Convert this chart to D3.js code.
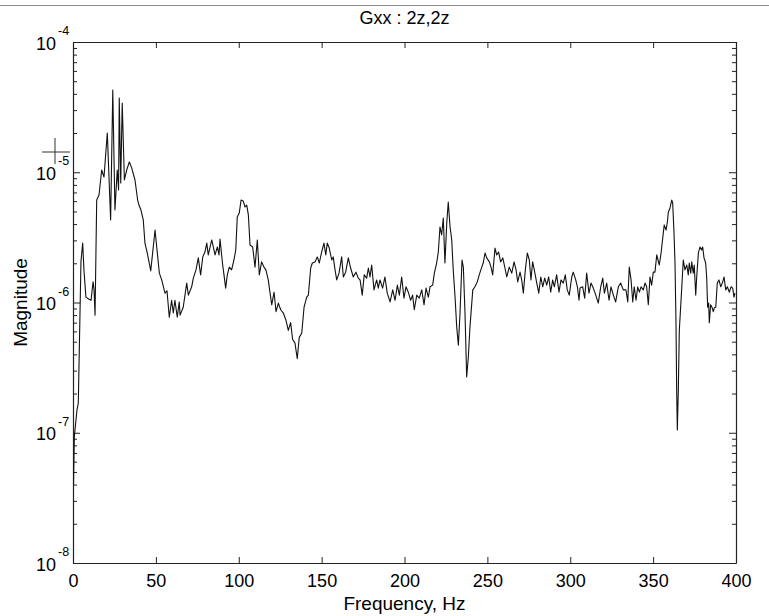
<!DOCTYPE html>
<html>
<head>
<meta charset="utf-8">
<script src="https://cdn.jsdelivr.net/npm/d3@7"></script>
<style>
  html, body { margin: 0; padding: 0; background: #fff; }
  svg { display: block; }
  text { font-family: "Liberation Sans", Arial, Helvetica, sans-serif; fill: #000; }
</style>
</head>
<body>
<svg id="chart" width="769" height="616"></svg>
<script>
const title = "Gxx : 2z,2z";
const xLabel = "Frequency, Hz";
const yLabel = "Magnitude";
const xTicks = [0, 50, 100, 150, 200, 250, 300, 350, 400];
const yMajorTicks = [1e-8, 1e-7, 1e-6, 1e-5, 1e-4];

const freq = [
  0.3, 0.8, 2.4, 3.2, 4.8, 5.85, 6.6, 7.8, 9.7, 10.9, 12.1, 12.7, 13.3, 14.3, 15.7, 17.3, 18.7, 20.7, 22.7, 24.0,
  25.3, 26.7, 27.5, 27.9, 28.8, 29.7, 31.0, 32.4, 34.0, 35.4, 37.4, 39.0, 39.8, 41.0, 42.4, 43.4, 44.8, 46.9, 49.5, 50.5,
  52.1, 53.5, 55.5, 56.7, 58.1, 59.5, 60.5, 61.5, 62.9, 64.1, 64.6, 66.5, 68.6, 69.6, 71.6, 72.6, 74.2, 75.6, 77.0, 78.3,
  79.6, 80.7, 81.6, 83.7, 85.7, 87.1, 88.1, 88.7, 90.3, 91.1, 92.1, 93.1, 94.3, 95.7, 97.1, 98.2, 99.1, 100.3, 101.4, 102.7,
  103.8, 104.8, 105.8, 106.8, 108.4, 109.8, 111.2, 112.4, 113.8, 115.2, 116.4, 117.8, 118.9, 119.9, 121.3, 122.5, 123.9, 125.3, 126.9, 128.5,
  129.9, 131.3, 132.5, 133.9, 135.3, 136.5, 138.0, 139.4, 141.0, 142.0, 143.4, 144.4, 146.0, 147.4, 148.6, 150.0, 151.4, 152.5, 153.4, 154.6,
  156.1, 157.0, 158.1, 159.1, 160.5, 162.1, 163.1, 164.5, 166.1, 167.5, 169.1, 170.7, 172.1, 173.2, 174.5, 175.7, 177.2, 178.2, 179.2, 180.2,
  181.6, 183.2, 184.2, 185.2, 186.8, 188.2, 189.6, 191.3, 192.9, 194.3, 195.7, 196.9, 198.3, 199.7, 200.9, 202.3, 203.7, 204.9, 205.9, 207.4,
  208.9, 210.4, 211.8, 213.0, 214.4, 215.4, 217.0, 218.0, 219.4, 220.4, 221.4, 222.4, 223.4, 224.4, 225.5, 226.4, 227.5, 228.5, 229.4, 230.5,
  231.5, 232.5, 233.5, 234.7, 235.5, 236.5, 237.5, 238.5, 239.5, 241.2, 242.5, 243.9, 245.1, 246.6, 247.5, 248.6, 249.6, 251.2, 252.2, 253.2,
  254.6, 255.6, 256.8, 258.0, 259.3, 260.6, 261.7, 263.2, 264.7, 266.1, 267.3, 268.3, 269.7, 270.7, 271.7, 272.9, 274.1, 275.3, 276.3, 277.3,
  278.3, 279.8, 281.0, 282.2, 283.4, 284.6, 285.8, 287.0, 288.2, 289.4, 290.4, 291.8, 293.2, 294.4, 295.8, 297.0, 298.2, 299.4, 300.9, 301.8,
  303.3, 304.3, 305.3, 305.9, 307.5, 308.7, 309.9, 311.3, 312.5, 313.9, 315.4, 316.9, 318.4, 319.6, 320.6, 322.0, 323.4, 324.6, 326.0, 327.4,
  329.0, 330.4, 332.0, 333.6, 334.7, 335.6, 336.7, 337.7, 338.6, 339.7, 340.7, 341.7, 342.7, 344.1, 345.1, 346.1, 347.1, 348.1, 349.1, 350.1,
  351.1, 352.2, 353.7, 354.8, 355.8, 356.7, 357.8, 358.6, 359.2, 360.2, 361.2, 361.8, 362.6, 363.2, 363.8, 364.2, 364.6, 365.2, 365.8, 367.2,
  368.2, 369.2, 370.3, 371.2, 371.8, 372.7, 373.3, 374.2, 374.8, 375.7, 376.3, 377.3, 378.3, 379.3, 379.9, 380.7, 381.7, 382.3, 382.9, 383.5,
  383.9, 384.7, 385.5, 386.3, 386.9, 387.8, 388.7, 389.7, 390.8, 392.0, 392.8, 393.8, 394.8, 396.0, 397.0, 398.0, 398.8, 399.4
];

const magnitude = [
  4.0e-8, 9.3e-8, 1.5e-7, 1.69e-7, 2.05e-6, 2.86e-6, 1.78e-6, 1.10e-6, 1.06e-6, 1.04e-6, 1.44e-6, 1.25e-6, 0.80e-6, 6.12e-6, 6.69e-6, 1.04e-5, 9.2e-6, 2.0e-5, 4.30e-6, 4.28e-5,
  5.13e-6, 1.04e-5, 7.31e-6, 3.72e-5, 8.27e-6, 3.40e-5, 8.72e-6, 1.04e-5, 1.20e-5, 1.08e-5, 8.72e-6, 6.12e-6, 5.60e-6, 5.13e-6, 4.30e-6, 2.86e-6, 2.40e-6, 1.75e-6, 3.60e-6, 2.67e-6,
  1.68e-6, 1.49e-6, 1.18e-6, 1.23e-6, 0.77e-6, 1.04e-6, 0.83e-6, 1.04e-6, 0.77e-6, 1.01e-6, 0.80e-6, 0.92e-6, 1.41e-6, 1.14e-6, 1.32e-6, 1.54e-6, 1.78e-6, 2.20e-6, 1.63e-6, 2.24e-6,
  2.44e-6, 2.86e-6, 2.32e-6, 3.02e-6, 2.32e-6, 2.67e-6, 2.32e-6, 3.07e-6, 1.94e-6, 1.63e-6, 1.29e-6, 1.63e-6, 1.87e-6, 1.78e-6, 2.12e-6, 2.53e-6, 4.53e-6, 4.86e-6, 6.12e-6, 6.01e-6,
  5.41e-6, 5.60e-6, 4.70e-6, 2.76e-6, 2.67e-6, 1.87e-6, 3.02e-6, 1.63e-6, 2.05e-6, 1.87e-6, 1.78e-6, 1.49e-6, 1.18e-6, 0.96e-6, 1.20e-6, 0.85e-6, 0.99e-6, 0.88e-6, 0.83e-6, 0.73e-6,
  0.61e-6, 0.70e-6, 0.52e-6, 0.49e-6, 0.37e-6, 0.54e-6, 0.58e-6, 0.92e-6, 1.10e-6, 1.14e-6, 1.84e-6, 2.01e-6, 2.05e-6, 2.24e-6, 2.01e-6, 2.44e-6, 2.86e-6, 2.32e-6, 2.86e-6, 2.62e-6,
  2.12e-6, 2.24e-6, 1.78e-6, 1.49e-6, 1.68e-6, 2.24e-6, 1.57e-6, 1.71e-6, 2.20e-6, 1.84e-6, 1.57e-6, 1.71e-6, 1.54e-6, 1.49e-6, 1.14e-6, 1.63e-6, 1.54e-6, 1.84e-6, 1.57e-6, 1.94e-6,
  1.25e-6, 1.49e-6, 1.29e-6, 1.49e-6, 1.29e-6, 1.57e-6, 1.18e-6, 1.01e-6, 1.25e-6, 1.04e-6, 1.36e-6, 1.14e-6, 1.57e-6, 1.08e-6, 1.32e-6, 1.20e-6, 1.04e-6, 1.14e-6, 0.88e-6, 1.14e-6,
  1.08e-6, 1.25e-6, 0.96e-6, 1.29e-6, 1.10e-6, 1.32e-6, 1.36e-6, 1.68e-6, 2.01e-6, 2.44e-6, 3.80e-6, 3.30e-6, 4.45e-6, 2.01e-6, 4.08e-6, 5.91e-6, 3.80e-6, 3.02e-6, 1.78e-6, 1.10e-6,
  0.65e-6, 0.47e-6, 0.83e-6, 2.12e-6, 1.87e-6, 0.83e-6, 0.268e-6, 0.38e-6, 0.65e-6, 1.25e-6, 1.32e-6, 1.44e-6, 1.63e-6, 1.87e-6, 2.01e-6, 2.40e-6, 2.20e-6, 2.05e-6, 1.87e-6, 1.63e-6,
  2.62e-6, 2.32e-6, 2.44e-6, 2.05e-6, 2.20e-6, 1.84e-6, 1.57e-6, 1.87e-6, 1.68e-6, 2.05e-6, 1.78e-6, 1.44e-6, 1.71e-6, 1.49e-6, 1.18e-6, 1.78e-6, 2.40e-6, 2.12e-6, 1.49e-6, 2.05e-6,
  1.78e-6, 1.41e-6, 1.18e-6, 1.57e-6, 1.32e-6, 1.54e-6, 1.36e-6, 1.57e-6, 1.20e-6, 1.49e-6, 1.32e-6, 1.63e-6, 1.20e-6, 1.49e-6, 1.41e-6, 1.63e-6, 1.25e-6, 1.14e-6, 1.57e-6, 1.71e-6,
  1.49e-6, 1.32e-6, 1.04e-6, 1.29e-6, 1.32e-6, 1.08e-6, 1.68e-6, 1.18e-6, 1.41e-6, 1.29e-6, 1.14e-6, 0.99e-6, 1.32e-6, 1.54e-6, 1.18e-6, 1.41e-6, 1.04e-6, 1.32e-6, 1.14e-6, 1.01e-6,
  1.32e-6, 1.41e-6, 1.25e-6, 1.25e-6, 1.01e-6, 1.87e-6, 1.49e-6, 1.01e-6, 1.32e-6, 1.04e-6, 1.32e-6, 1.20e-6, 1.32e-6, 1.25e-6, 1.41e-6, 1.32e-6, 0.96e-6, 1.57e-6, 1.36e-6, 1.71e-6,
  1.71e-6, 2.32e-6, 1.94e-6, 2.40e-6, 3.13e-6, 3.94e-6, 3.60e-6, 4.15e-6, 4.95e-6, 5.32e-6, 6.12e-6, 5.81e-6, 3.42e-6, 2.01e-6, 0.70e-6, 0.213e-6, 0.105e-6, 0.213e-6, 0.61e-6, 1.25e-6,
  2.12e-6, 1.78e-6, 1.94e-6, 1.63e-6, 2.01e-6, 1.68e-6, 2.05e-6, 1.68e-6, 1.94e-6, 1.14e-6, 1.57e-6, 2.40e-6, 2.67e-6, 2.53e-6, 2.67e-6, 2.20e-6, 2.01e-6, 1.57e-6, 0.92e-6, 0.99e-6,
  0.70e-6, 0.96e-6, 0.92e-6, 0.85e-6, 0.91e-6, 0.92e-6, 1.41e-6, 1.49e-6, 1.32e-6, 1.44e-6, 1.57e-6, 1.25e-6, 1.32e-6, 1.20e-6, 1.32e-6, 1.29e-6, 1.10e-6, 1.18e-6
];

const data = freq.map((f, i) => ({ f: f, m: magnitude[i] }));

const W = 769, H = 616;
const margin = { left: 73, top: 42, right: 769 - 736, bottom: 616 - 563 };
const plotW = W - margin.left - margin.right;
const plotH = H - margin.top - margin.bottom;

const svg = d3.select("#chart");

// top grey separator line of the screenshot
svg.append("line")
  .attr("x1", 0).attr("x2", W).attr("y1", 5.5).attr("y2", 5.5)
  .attr("stroke", "#8a8a8a").attr("stroke-width", 1.2);

const g = svg.append("g").attr("transform", `translate(${margin.left},${margin.top})`);

const x = d3.scaleLinear().domain([0, 400]).range([0, plotW]);
const y = d3.scaleLog().domain([1e-8, 1e-4]).range([plotH, 0]);

const allYTicks = y.ticks();
const yMinorTicks = allYTicks.filter(v => !yMajorTicks.some(m => Math.abs(m - v) / m < 1e-6));

function styleAxis(sel) {
  sel.selectAll("path.domain").attr("stroke", "#222").attr("stroke-width", 1.2);
  sel.selectAll(".tick line").attr("stroke", "#222").attr("stroke-width", 1);
}

// Bottom axis with labels
const xBottom = g.append("g").attr("transform", `translate(0,${plotH})`)
  .call(d3.axisBottom(x).tickValues(xTicks).tickSize(-6).tickSizeOuter(0).tickPadding(11).tickFormat(d3.format("d")));
styleAxis(xBottom);
xBottom.selectAll("text").attr("font-size", 18).attr("font-family", "Liberation Sans, Arial, sans-serif").attr("fill", "#000");

// Top axis
const xTop = g.append("g")
  .call(d3.axisTop(x).tickValues(xTicks).tickSize(-6).tickSizeOuter(0).tickFormat(""));
styleAxis(xTop);

// Left axis: majors + minors
const yLeft = g.append("g")
  .call(d3.axisLeft(y).tickValues(yMajorTicks).tickSize(-7).tickSizeOuter(0).tickFormat(""));
styleAxis(yLeft);
const yLeftMinor = g.append("g")
  .call(d3.axisLeft(y).tickValues(yMinorTicks).tickSize(-4).tickSizeOuter(0).tickFormat(""));
styleAxis(yLeftMinor);
yLeftMinor.select("path.domain").remove();

// Right axis
const yRight = g.append("g").attr("transform", `translate(${plotW},0)`)
  .call(d3.axisRight(y).tickValues(yMajorTicks).tickSize(-7).tickSizeOuter(0).tickFormat(""));
styleAxis(yRight);
const yRightMinor = g.append("g").attr("transform", `translate(${plotW},0)`)
  .call(d3.axisRight(y).tickValues(yMinorTicks).tickSize(-4).tickSizeOuter(0).tickFormat(""));
styleAxis(yRightMinor);
yRightMinor.select("path.domain").remove();

// Y tick labels: 10^n
yMajorTicks.forEach(v => {
  const exp = Math.round(Math.log10(v));
  g.append("text")
    .attr("x", -17).attr("y", y(v) + 7.5)
    .attr("text-anchor", "end").attr("font-size", 18)
    .text("10");
  g.append("text")
    .attr("x", -15).attr("y", y(v) - 7)
    .attr("text-anchor", "start").attr("font-size", 12.5)
    .text(String(exp));
});

// Data line
const line = d3.line().x(d => x(d.f)).y(d => y(d.m));
g.append("path")
  .datum(data)
  .attr("fill", "none")
  .attr("stroke", "#111")
  .attr("stroke-width", 1.1)
  .attr("stroke-linejoin", "round")
  .attr("d", line);

// Crosshair cursor artifact near the 10^-5 label
svg.append("line").attr("x1", 42).attr("x2", 70).attr("y1", 152).attr("y2", 152).attr("stroke", "#333").attr("stroke-width", 1);
svg.append("line").attr("x1", 55).attr("x2", 55).attr("y1", 138).attr("y2", 164).attr("stroke", "#333").attr("stroke-width", 1);

// Title and axis labels
svg.append("text")
  .attr("x", margin.left + plotW / 2).attr("y", 24)
  .attr("text-anchor", "middle").attr("font-size", 18)
  .text(title);

svg.append("text")
  .attr("x", margin.left + plotW / 2).attr("y", 610)
  .attr("text-anchor", "middle").attr("font-size", 19)
  .text(xLabel);

svg.append("text")
  .attr("transform", `translate(27,${margin.top + plotH / 2}) rotate(-90)`)
  .attr("text-anchor", "middle").attr("font-size", 19)
  .text(yLabel);
</script>
</body>
</html>
